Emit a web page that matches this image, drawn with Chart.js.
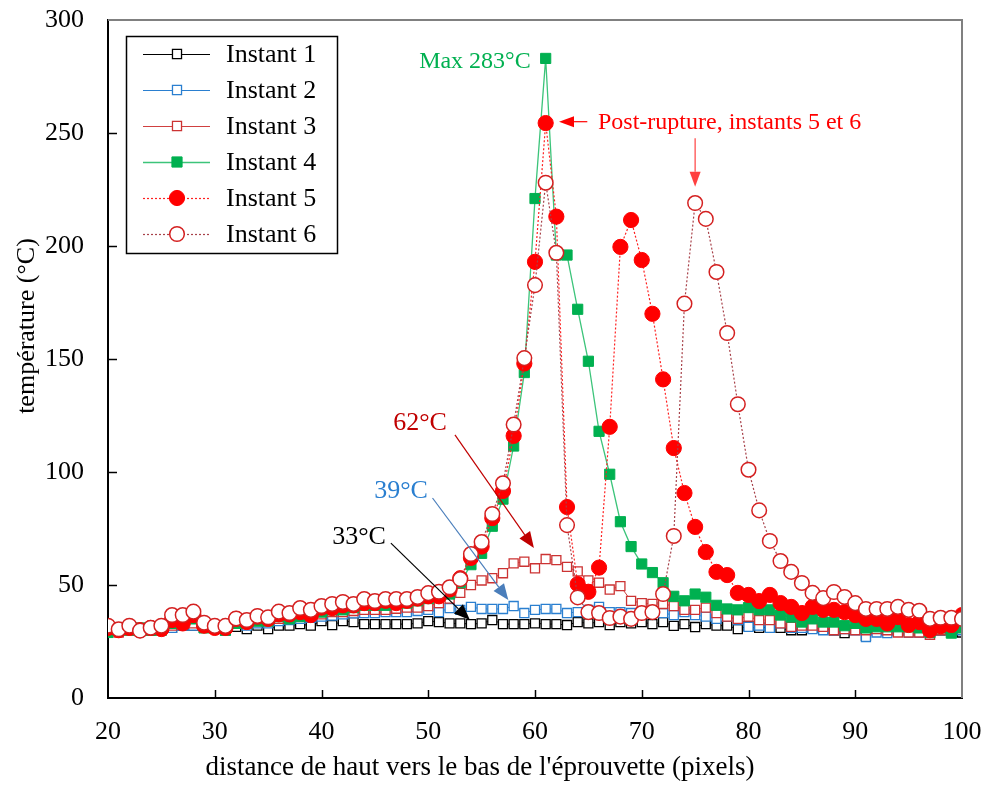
<!DOCTYPE html>
<html>
<head>
<meta charset="utf-8">
<script src="https://cdn.jsdelivr.net/npm/chart.js@4.4.1/dist/chart.umd.min.js"></script>
<style>
html,body{margin:0;padding:0;background:#fff;}
#wrap{width:985px;height:785px;position:relative;}
</style>
</head>
<body>
<div id="wrap"><canvas id="c" width="985" height="785"></canvas></div>
<script>
// ---- DATA ----
const distances = [20,21,22,23,24,25,26,27,28,29,30,31,32,33,34,35,36,37,38,39,40,41,42,43,44,45,46,47,48,49,50,51,52,53,54,55,56,57,58,59,60,61,62,63,64,65,66,67,68,69,70,71,72,73,74,75,76,77,78,79,80,81,82,83,84,85,86,87,88,89,90,91,92,93,94,95,96,97,98,99,100];

const instant1 = [30,30,31,30,30,31,31,32,32,31,
  31,30,31.5,30.5,32,30.5,32,32,32.7,32,
  34,32.3,34,33.6,32.7,32.7,32.7,32.7,32.7,33,
  34,33.6,33,33,32.7,33,34.5,32.7,32.7,32.7,
  33,32.7,32.7,32.3,33.6,33,33.6,32.3,33.6,33,
  33.6,32.7,33.6,31.9,32.7,31.4,32.7,32,32,30.5,
  31.8,31,31.5,31,30,30,31,30.5,30,28.7,
  30.5,27.5,30,30,29.5,30,29.5,29,30,29.5,29];

const instant2 = [30,30,30.5,30,30.5,30.5,31,32,32,31,
  31,30,33,32,33,33,34,34.5,35,35.5,
  36,36.5,37,37.5,37.6,37.6,38,38,38,38.5,
  39,38,39.8,39,40.3,39.4,39.4,39.4,40.7,37.6,
  39,39.4,39.4,37.6,38,39,40.3,38,38,37.6,
  37.6,38,37.6,36.7,38,36.7,36,35,36,34.5,
  31.5,32,31,33,31,31,30.5,30,30,30.5,
  30,27,29,28.7,29.5,29,29,28,30,29,30];

const instant3 = [30,29,30,30,30,30,32,33,33,32,
  31,31,33,33,34,34,35,35,36,36.5,
  37,38,38,38.5,39,39,39,39.5,40,40,
  40.7,42,44,46.5,50,52,53,55.2,59.6,60.3,
  57.4,61.5,61,58,56,52,51,48,49.5,43,
  42,41.6,41.6,40.7,39,39,40,37.6,36,35,
  36,34.5,34.5,33,31.5,32,32,31.5,30,30.5,
  30,30,30.5,30,29,29,29,28,30,30,31];

const instant4 = [29,30,30,31,30,30,33,33,35,31,
  31,30,33,33,34,34,36,35,36,37,
  38,39,39,40,41,41,41,42,42,43,
  44,45,46,51,59,64,76,88,111.5,144,
  221,283,196,196,172,149,118,99,78,67,
  59.3,55.5,51,45,43,46,44.6,41,39.4,39,
  40,39,39,36.7,35.8,33.6,35,33.6,33.6,32,
  33,31,31.5,31.5,31.5,31.5,31,29,31,28.7,31];

const instant5 = [31,30,31,30,31,30.5,34.5,33,36.7,32,
  31,31,35,33.6,36,35,37,37,38,36.7,
  40,39.8,41,41,42,42,43,42,43,44,
  45,45,48,53,62,67,79.6,91.6,116,148,
  193,254.4,213,84.5,50.4,47,57.7,120,199.6,211.5,
  193.8,170,141,110.6,90.7,75.7,64.6,55.8,54.4,46.5,
  45.6,42.9,45.6,42,40.3,37.6,40.3,39,39,38,
  36.7,35,35,33,35.8,32.3,33.6,30,31.8,32.3,36.7];

const instant6 = [32,30.4,32,29.8,31.1,32,36.7,36.7,38.2,33.3,
  31.9,31.9,35.2,34.5,36.3,35.7,38.2,37.6,39.8,39,
  40.7,41.6,42.5,41.6,43.8,42.9,43.8,43.8,43.8,44.7,
  46.4,47,49,52.6,63.7,69,81.4,95,121,150.4,
  182.7,228,197,76.5,44.5,38,37.6,35.4,36,35,
  37.6,38,46,71.7,174.5,219,212,188.5,161.5,130,
  101,83,69.5,60.6,55.8,50.9,46.5,44.2,46.9,44.7,
  42,39.4,39.4,39.4,40.3,39,38.6,35,35.5,35.5,35];

const seriesNames = ['Instant 1','Instant 2','Instant 3','Instant 4','Instant 5','Instant 6'];
const xTicks = [20,30,40,50,60,70,80,90,100];
const yTicks = [0,50,100,150,200,250,300];
const xTitle = "distance de haut vers le bas de l'éprouvette (pixels)";
const yTitle = 'température (°C)';

// ---- BUILD ----
const FONT = 'Liberation Serif';
function pts(arr){ return distances.map((d,i)=>({x:d,y:arr[i]})); }

const styles = [
  {line:'#000000', pc:'#000000', bg:'#ffffff', ps:'rect', r:6.4, dash:[], lw:1, pbw:1.3},
  {line:'#2a7fd0', pc:'#2a7fd0', bg:'#ffffff', ps:'rect', r:6.4, dash:[], lw:1, pbw:1.3},
  {line:'#d04040', pc:'#cc3333', bg:'#ffffff', ps:'rect', r:6.4, dash:[], lw:1, pbw:1.3},
  {line:'#3cc47a', pc:'#00b050', bg:'#00b050', ps:'rect', r:7.2, dash:[], lw:1.3, pbw:1},
  {line:'#ff2020', pc:'#ff0000', bg:'#ff0000', ps:'circle', r:7.6, dash:[2,2], lw:1.2, pbw:1},
  {line:'#a8424a', pc:'#d42020', bg:'#ffffff', ps:'circle', r:7.3, dash:[2,2], lw:1.2, pbw:1.5}
];
const allSeries = [instant1,instant2,instant3,instant4,instant5,instant6];

const datasets = allSeries.map((arr,i)=>({
  label: seriesNames[i],
  data: pts(arr),
  borderColor: styles[i].line,
  borderWidth: styles[i].lw,
  borderDash: styles[i].dash,
  backgroundColor: styles[i].bg,
  pointStyle: styles[i].ps,
  pointRadius: styles[i].r,
  pointHoverRadius: styles[i].r,
  pointBorderColor: styles[i].pc,
  pointBackgroundColor: styles[i].bg,
  pointBorderWidth: styles[i].pbw,
  tension: 0,
  fill: false,
  order: 6 - i
}));

function arrow(ctx, x1,y1,x2,y2,color,lw,hl,hw){
  const a = Math.atan2(y2-y1,x2-x1);
  const bx = x2 - hl*Math.cos(a), by = y2 - hl*Math.sin(a);
  ctx.save();
  ctx.strokeStyle=color; ctx.fillStyle=color; ctx.lineWidth=lw; ctx.setLineDash([]);
  ctx.beginPath(); ctx.moveTo(x1,y1); ctx.lineTo(bx,by); ctx.stroke();
  ctx.beginPath();
  ctx.moveTo(x2,y2);
  ctx.lineTo(bx + hw*Math.sin(a), by - hw*Math.cos(a));
  ctx.lineTo(bx - hw*Math.sin(a), by + hw*Math.cos(a));
  ctx.closePath(); ctx.fill();
  ctx.restore();
}

function zeroPad(s){ s.paddingTop = 0; s.paddingBottom = 0; s.paddingLeft = 0; s.paddingRight = 0; }

const decor = {
  id:'decor',
  afterDraw(chart){
    const ctx = chart.ctx, ca = chart.chartArea;
    const xs = chart.scales.x, ys = chart.scales.y;
    const X = v=>xs.getPixelForValue(v), Y = v=>ys.getPixelForValue(v);
    ctx.save();
    // frame top/right
    ctx.strokeStyle='#808080'; ctx.lineWidth=2;
    ctx.beginPath(); ctx.moveTo(ca.left, ca.top); ctx.lineTo(ca.right, ca.top); ctx.lineTo(ca.right, ca.bottom); ctx.stroke();
    // inner ticks
    ctx.strokeStyle='#000'; ctx.lineWidth=1.5;
    yTicks.forEach(v=>{ if(v===0||v===300) return; const y=Math.round(Y(v))+0.5; ctx.beginPath(); ctx.moveTo(ca.left, y); ctx.lineTo(ca.left+9, y); ctx.stroke(); });
    xTicks.forEach(v=>{ if(v===20||v===100) return; const x=Math.round(X(v))+0.5; ctx.beginPath(); ctx.moveTo(x, ca.bottom); ctx.lineTo(x, ca.bottom-8); ctx.stroke(); });
    // axis titles
    ctx.fillStyle='#000'; ctx.textAlign='center'; ctx.textBaseline='middle';
    ctx.font='27px "'+FONT+'"';
    ctx.fillText(xTitle, 480, 768);
    ctx.font='26px "'+FONT+'"';
    ctx.save(); ctx.translate(27, 326); ctx.rotate(-Math.PI/2); ctx.fillText(yTitle, 0, 0); ctx.restore();

    // annotations
    ctx.font='24px "'+FONT+'"';
    ctx.fillStyle='#00b050'; ctx.textAlign='right';
    ctx.fillText('Max 283°C', X(59.6), Y(281.5));
    ctx.fillStyle='#ff0000'; ctx.textAlign='left';
    ctx.fillText('Post-rupture, instants 5 et 6', X(65.9), Y(254.6));
    arrow(ctx, X(64.9), Y(255), X(62.25), Y(255), '#ff0000', 1.2, 15, 5.5);
    arrow(ctx, X(75.0), Y(247.7), X(75.0), Y(226.2), '#ff4040', 1.2, 15, 5.5);

    ctx.font='26px "'+FONT+'"'; ctx.textAlign='center';
    ctx.fillStyle='#c00000'; ctx.fillText('62°C', 420, 423);
    ctx.fillStyle='#2a7fd0'; ctx.fillText('39°C', 401, 491);
    ctx.fillStyle='#000000'; ctx.fillText('33°C', 359, 537);
    arrow(ctx, X(52.5), Y(116.4), X(59.9), Y(66.4), '#c00000', 1.2, 16, 6.5);
    arrow(ctx, X(50.4), Y(88.5), X(57.5), Y(43.4), '#4a7ebb', 1.2, 16, 6.5);
    arrow(ctx, X(46.5), Y(68.5), X(53.9), Y(34.5), '#000000', 1.2, 16, 6.5);

    // legend
    ctx.fillStyle='#fff'; ctx.strokeStyle='#000'; ctx.lineWidth=1.5;
    ctx.fillRect(126,36,211,217); ctx.strokeRect(126.5,36.5,211,217);
    chart.data.datasets.forEach((ds,i)=>{
      const y = 54 + 36*i;
      ctx.save();
      ctx.strokeStyle = ds.borderColor; ctx.lineWidth = ds.borderWidth; ctx.setLineDash(ds.borderDash||[]);
      ctx.beginPath(); ctx.moveTo(143,y+0.5); ctx.lineTo(210,y+0.5); ctx.stroke();
      ctx.setLineDash([]);
      ctx.fillStyle = ds.pointBackgroundColor; ctx.strokeStyle = ds.pointBorderColor; ctx.lineWidth = ds.pointBorderWidth;
      ctx.beginPath();
      if(ds.pointStyle==='rect'){ const s=ds.pointRadius*Math.SQRT1_2; ctx.rect(177-s,y-s,2*s,2*s); }
      else { ctx.arc(177,y,ds.pointRadius,0,Math.PI*2); }
      ctx.fill(); ctx.stroke();
      ctx.restore();
      ctx.fillStyle='#000'; ctx.textAlign='left'; ctx.textBaseline='middle'; ctx.font='26px "'+FONT+'"';
      ctx.fillText(ds.label, 226, y+1);
    });
    ctx.restore();
  }
};

new Chart(document.getElementById('c'), {
  type:'line',
  data:{ datasets },
  options:{
    responsive:false,
    animation:false,
    events:[],
    layout:{ padding:{ top:20, right:23, left:0, bottom:0 } },
    plugins:{ legend:{display:false}, tooltip:{enabled:false} },
    scales:{
      x:{
        type:'linear', min:20, max:100,
        afterFit(s){ s.height = 87; zeroPad(s); },
        afterBuildTicks(s){ s.ticks = xTicks.map(v=>({value:v})); },
        ticks:{ color:'#000', font:{family:FONT, size:26}, padding:19, maxRotation:0 },
        grid:{ display:true, drawOnChartArea:false, drawTicks:false },
        border:{ display:true, color:'#000', width:2 }
      },
      y:{
        min:0, max:300,
        afterFit(s){ s.width = 108; zeroPad(s); },
        afterBuildTicks(s){ s.ticks = yTicks.map(v=>({value:v})); },
        ticks:{ color:'#000', font:{family:FONT, size:26}, padding:24 },
        grid:{ display:true, drawOnChartArea:false, drawTicks:false },
        border:{ display:true, color:'#000', width:2 }
      }
    }
  },
  plugins:[decor]
});
</script>
</body>
</html>
